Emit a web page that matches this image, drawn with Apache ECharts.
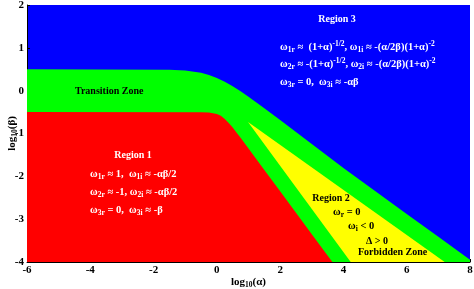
<!DOCTYPE html>
<html><head><meta charset="utf-8">
<script src="https://cdn.jsdelivr.net/npm/echarts@6/dist/echarts.min.js"></script>
<style>html,body{margin:0;padding:0;background:#fff}#c{width:474px;height:289px}</style>
</head><body><div id="c"></div>
<script>
// Boundary curves (x = log10(alpha), y = log10(beta))
const upperX = [-6, -1.5, -1, -0.5, -0.25, 0, 0.25, 0.5, 0.75, 1, 1.25, 1.5, 2, 3, 4, 5, 6, 7, 8];
const upperY = [0.5, 0.49, 0.47, 0.416, 0.367, 0.297, 0.209, 0.103, -0.015, -0.142, -0.274, -0.41, -0.686, -1.244, -1.804, -2.34, -2.88, -3.41, -3.95];
const lowerX = [-6, -0.5, -0.25, 0, 0.125, 0.25, 0.375, 0.5, 0.625, 0.75, 1, 1.25, 1.5, 2, 3, 3.65];
const lowerY = [-0.5, -0.502, -0.509, -0.544, -0.588, -0.659, -0.753, -0.862, -0.98, -1.102, -1.35, -1.6, -1.85, -2.35, -3.35, -4];
const wedgeX = [0.985, 4.23, 7.2];
const wedgeY = [-0.732, -4, -4];
const xTicks = [-6, 8, 2];   // min, max, interval
const yTicks = [-4, 2, 1];

const colors = { blue: '#0000ff', green: '#00ff00', red: '#ff0000', yellow: '#ffff00' };

const zip = (xs, ys) => xs.map((x, i) => [x, ys[i]]);
const polygons = [
  { pts: zip(upperX, upperY).concat([[xTicks[1], yTicks[0]], [xTicks[0], yTicks[0]]]), color: colors.green },
  { pts: zip(lowerX, lowerY).concat([[xTicks[0], yTicks[0]]]), color: colors.red },
  { pts: zip(wedgeX, wedgeY), color: colors.yellow }
];

const SERIF = '"Liberation Serif", "Times New Roman", serif';
const F = 'bold 10px ' + SERIF;
const FF = 'bold 10.5px ' + SERIF;
const FS = 'bold 7.5px ' + SERIF;
function rich(color) {
  return {
    t: { font: F, fill: color, lineHeight: 14, verticalAlign: 'middle' },
    m: { font: FF, fill: color, lineHeight: 14, verticalAlign: 'middle' },
    b: { font: FS, fill: color, lineHeight: 14, verticalAlign: 'bottom' },
    p: { font: FS, fill: color, lineHeight: 14, verticalAlign: 'top' }
  };
}
function txt(x, y, text, color, align) {
  return { type: 'text', x: x, y: y, z: 100,
    style: { text: text, font: F, fill: color, align: align || 'left', verticalAlign: 'middle', rich: rich(color) } };
}
const W = '#ffffff', K = '#000000';
const texts = [
  txt(337, 19, '{t|Region 3}', W, 'center'),
  txt(280, 47, '{m|ω}{b|1r}{m| ≈  (1+α)}{p|-1/2}{m|, ω}{b|1i}{m| ≈ -(α/2β)(1+α)}{p|-2}', W),
  txt(280, 64, '{m|ω}{b|2r}{m| ≈ -(1+α)}{p|-1/2}{m|, ω}{b|2i}{m| ≈ -(α/2β)(1+α)}{p|-2}', W),
  txt(280, 82, '{m|ω}{b|3r}{m| = 0,  ω}{b|3i}{m| ≈ -αβ}', W),
  txt(75, 91, '{t|Transition Zone}', K),
  txt(133, 155, '{t|Region 1}', W, 'center'),
  txt(90, 174, '{m|ω}{b|1r}{m| ≈ 1,  ω}{b|1i}{m| ≈ -αβ/2}', W),
  txt(90, 192, '{m|ω}{b|2r}{m| ≈ -1, ω}{b|2i}{m| ≈ -αβ/2}', W),
  txt(90, 210, '{m|ω}{b|3r}{m| = 0,  ω}{b|3i}{m| ≈ -β}', W),
  txt(331, 198, '{t|Region 2}', K, 'center'),
  txt(333, 212, '{m|ω}{b|r}{m| = 0}', K),
  txt(348, 226, '{m|ω}{b|i}{m| < 0}', K),
  txt(366, 241, '{t|Δ > 0}', K),
  txt(358, 252, '{t|Forbidden Zone}', K)
];

const chart = echarts.init(document.getElementById('c'), null, { renderer: 'canvas' });
const axisLabel = { color: '#000', fontFamily: SERIF, fontWeight: 'bold', fontSize: 11 };
const nameStyle = {
  color: '#000', fontFamily: SERIF, fontWeight: 'bold', fontSize: 11,
  rich: {
    m: { color: '#000', fontFamily: SERIF, fontWeight: 'bold', fontSize: 11, lineHeight: 14, verticalAlign: 'middle' },
    s: { color: '#000', fontFamily: SERIF, fontWeight: 'bold', fontSize: 7.5, lineHeight: 14, verticalAlign: 'bottom' }
  }
};
chart.setOption({
  animation: false,
  backgroundColor: '#fff',
  grid: { left: 27, right: 4, top: 5, bottom: 27, show: true, backgroundColor: colors.blue, borderWidth: 0,
          containLabel: false, outerBoundsMode: 'none' },
  xAxis: {
    type: 'value', min: xTicks[0], max: xTicks[1], interval: xTicks[2],
    splitLine: { show: false },
    axisLine: { show: true, onZero: false, lineStyle: { color: '#000', width: 1 } },
    axisTick: { show: true, inside: true, length: 3, lineStyle: { color: '#000' } },
    axisLabel: Object.assign({ margin: 3, hideOverlap: false }, axisLabel),
    name: '{m|log}{s|10}{m|(α)}', nameLocation: 'middle', nameGap: 13, nameMoveOverlap: false, nameTextStyle: nameStyle
  },
  yAxis: {
    type: 'value', min: yTicks[0], max: yTicks[1], interval: yTicks[2],
    splitLine: { show: false },
    axisLine: { show: true, onZero: false, lineStyle: { color: '#000', width: 1 } },
    axisTick: { show: true, inside: true, length: 3, lineStyle: { color: '#000' } },
    axisLabel: Object.assign({ margin: 3, hideOverlap: false }, axisLabel),
    name: '{m|log}{s|10}{m|(β)}', nameLocation: 'middle', nameGap: 8, nameMoveOverlap: false, nameTextStyle: nameStyle
  },
  series: [{
    type: 'custom',
    coordinateSystem: 'cartesian2d',
    clip: true,
    data: polygons.map((p, i) => [p.pts[0][0], p.pts[0][1], i]),
    encode: { x: 0, y: 1 },
    renderItem: function (params, api) {
      const poly = polygons[api.value(2)];
      return {
        type: 'polygon',
        shape: { points: poly.pts.map(pt => api.coord(pt)) },
        style: { fill: poly.color, stroke: null }
      };
    }
  }],
  graphic: texts
});
</script></body></html>
